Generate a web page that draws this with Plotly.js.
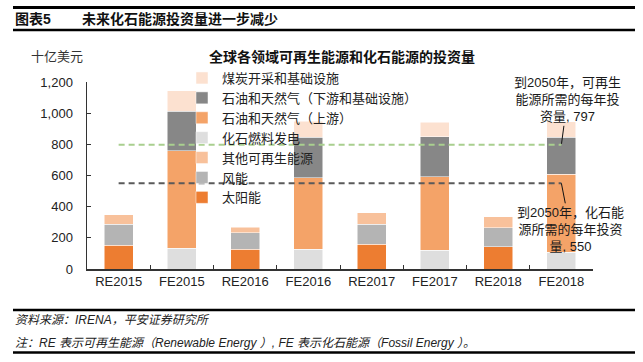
<!DOCTYPE html>
<html><head><meta charset="utf-8">
<script src="https://cdn.plot.ly/plotly-3.0.1.min.js"></script>
<style>html,body{margin:0;padding:0;background:#fff;}#c{width:643px;height:362px;}</style>
</head><body><div id="c"></div>
<script>
const categories = ['RE2015','FE2015','RE2016','FE2016','RE2017','FE2017','RE2018','FE2018'];
const solar      = [154, null, 128, null, 159, null, 143, null];
const wind       = [133, null, 105, null, 128, null, 123, null];
const otherRenew = [60,  null, 35,  null, 73,  null, 68,  null];
const fossilPower= [null, 133, null, 126, null, 120, null, 109];
const oilGasUp   = [null, 627, null, 461, null, 471, null, 500];
const oilGasDown = [null, 253, null, 259, null, 257, null, 237];
const coal       = [null, 131, null, 101, null, 95,  null, 99];
const renewTarget2050 = 797;
const fossilTarget2050 = 550;
const seriesNames = ['太阳能','风能','其他可再生能源','化石燃料发电','石油和天然气（上游）','石油和天然气（下游和基础设施）','煤炭开采和基础设施'];
const seriesColors = ['#ED7D31','#B4B4B4','#F8C19B','#DEDEDE','#F4A368','#878787','#FCE1D0'];
const seriesData = [solar, wind, otherRenew, fossilPower, oilGasUp, oilGasDown, coal];
const yTicks = [0,200,400,600,800,1000,1200];

const FONT = 'Liberation Sans, Arial, "Noto Sans CJK SC", sans-serif';
const L=87, R=593, T=82, B=269;
const px = x => (x-L)/(R-L);
const py = y => (B-y)/(B-T);

const traces = seriesData.map((d,i)=>({
  type:'bar', x:categories, y:d, name:seriesNames[i],
  marker:{color:seriesColors[i], line:{color:'#ffffff', width:0.5}},
  hoverinfo:'skip'
}));
traces.push({type:'scatter', mode:'lines', x:categories, y:categories.map(()=>renewTarget2050),
  line:{color:'#A9CF8F', width:2, dash:'6px,4px'}, showlegend:false, hoverinfo:'skip'});
traces.push({type:'scatter', mode:'lines', x:categories, y:categories.map(()=>fossilTarget2050),
  line:{color:'#5A5A5A', width:2, dash:'6px,4px'}, showlegend:false, hoverinfo:'skip'});

const ann = [];
const txt = (x,y,text,opts={}) => ann.push(Object.assign({xref:'paper',yref:'paper',x:px(x),y:py(y),text,showarrow:false,
  xanchor:'left',yanchor:'middle',font:{family:FONT,size:13,color:'#1a1a1a'}},opts));
txt(13,19,'<b>图表5</b>',{font:{family:FONT,size:14,color:'#111'}});
txt(80,19,'<b>未来化石能源投资量进一步减少</b>',{font:{family:FONT,size:14,color:'#111'}});
txt(342,57,'<b>全球各领域可再生能源和化石能源的投资量</b>',{xanchor:'center',font:{family:FONT,size:14,color:'#111'}});
txt(57,57,'十亿美元',{xanchor:'center',font:{family:FONT,size:13,color:'#333'}});
txt(13,320,'<i>资料来源：IRENA，平安证券研究所</i>',{font:{family:FONT,size:12,color:'#222'}});
txt(13,343,'<i>注：RE 表示可再生能源（Renewable Energy ）, FE 表示化石能源（Fossil Energy ）。</i>',{font:{family:FONT,size:12,color:'#222'}});
ann.push({xref:'x',yref:'y',x:'FE2018',y:renewTarget2050,text:'到2050年，可再生<br>能源所需的每年投<br>资量, '+renewTarget2050,
  showarrow:true,arrowhead:0,arrowwidth:1,arrowcolor:'#111',ax:6,ay:-45,standoff:1,
  font:{family:FONT,size:13,color:'#1a1a1a'}});
ann.push({xref:'x',yref:'y',x:'FE2018',y:fossilTarget2050,text:'到2050年，化石能<br>源所需的每年投资<br>量, '+fossilTarget2050,
  showarrow:true,arrowhead:0,arrowwidth:1,arrowcolor:'#111',ax:9,ay:46,standoff:0,
  font:{family:FONT,size:13,color:'#1a1a1a'}});

const hline = (y,w) => ({type:'line',xref:'paper',yref:'paper',x0:px(13),x1:px(635),y0:py(y),y1:py(y),line:{color:'#000',width:w}});
const shapes = [hline(7.5,3), hline(30,2.5), hline(310,2.5), hline(352.5,2.5)];

const layout = {
  width:643, height:362, margin:{l:L, r:643-R, t:T, b:362-B},
  paper_bgcolor:'#fff', plot_bgcolor:'rgba(0,0,0,0)',
  barmode:'stack', bargap:0.54,
  font:{family:FONT, size:13, color:'#222'},
  showlegend:true,
  legend:{traceorder:'reversed', x:px(182), y:py(63), xanchor:'left', yanchor:'top',
    bgcolor:'rgba(0,0,0,0)', font:{family:FONT,size:13,color:'#222'}, itemwidth:30, tracegroupgap:0},
  xaxis:{type:'category', range:[-0.5,7.5], showline:true, linecolor:'#333', linewidth:1.5, ticks:'inside', tickson:'boundaries',
    ticklen:4, tickcolor:'#333', showgrid:false, automargin:false, tickfont:{family:FONT,size:13,color:'#222'}, fixedrange:true},
  yaxis:{range:[0,1200], tickvals:yTicks, tickformat:',', showline:true, linecolor:'#333', linewidth:1.5,
    ticks:'inside', ticklen:4, tickcolor:'#333', showgrid:false, zeroline:false, ticklabelstandoff:10, automargin:false,
    tickfont:{family:FONT,size:13,color:'#222'}, fixedrange:true},
  annotations:ann, shapes:shapes
};
Plotly.newPlot('c', traces, layout, {staticPlot:true, displayModeBar:false});
</script></body></html>
